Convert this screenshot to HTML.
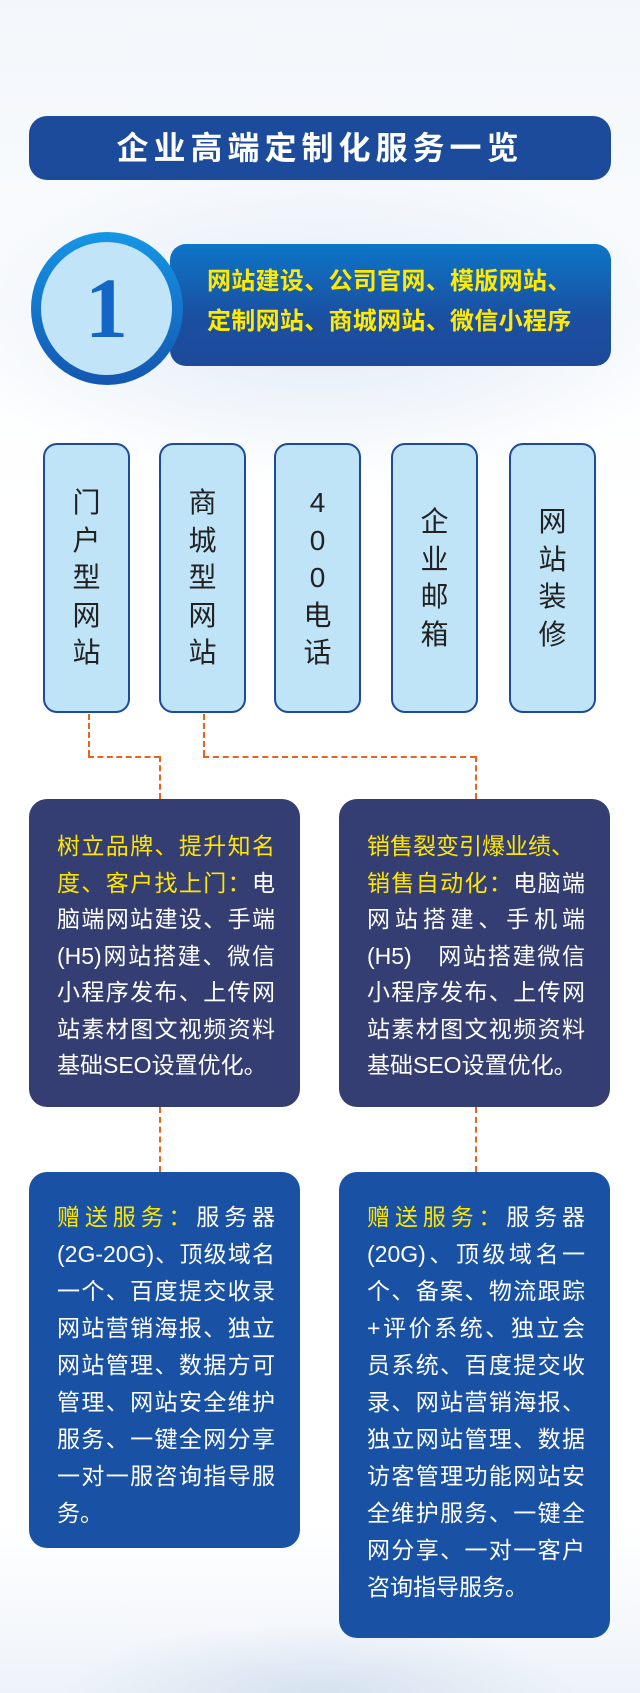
<!DOCTYPE html>
<html><head><meta charset="utf-8"><style>
*{margin:0;padding:0;box-sizing:border-box}
body{width:640px;height:1693px;position:relative;overflow:hidden;font-family:"Liberation Sans","Noto Sans CJK SC",sans-serif;
background:radial-gradient(ellipse 380px 160px at 320px 320px,#dfeaf5 0%,rgba(230,238,248,0.6) 50%,rgba(255,255,255,0) 100%),
radial-gradient(ellipse 260px 70px at 320px 1693px,#d6e2f0 0%,rgba(255,255,255,0) 100%),
linear-gradient(#f3f7fb 0,#fff 30%,#fff 90%,#eef3f9 100%);}
.abs{position:absolute}
.title{left:29px;top:116px;width:582px;height:64px;border-radius:18px;background:#1c4b9b;color:#fff;font-size:32px;font-weight:bold;text-align:center;line-height:64px;letter-spacing:5px}
.banner{left:170px;top:244px;width:441px;height:122px;border-radius:16px;background:linear-gradient(#0d76c8,#1b4fa0 60%,#1d4a9a);}
.btxt{left:207px;top:262px;color:#ffea00;font-size:24px;font-weight:bold;line-height:40px;letter-spacing:0.3px}
.circ{left:31px;top:232px;width:152px;height:153px;border-radius:50%;background:linear-gradient(#1596e6,#1456b0);}
.inner{left:41px;top:242px;width:131px;height:133px;border-radius:50%;background:#c1e4f8}
.one{left:41px;top:242px;width:131px;height:133px;text-align:center;line-height:133px;font-size:86px;font-weight:bold;color:#1466c4;font-family:"Liberation Serif",serif}
.vb{top:443px;width:87px;height:270px;border:2.5px solid #1d4a9a;border-radius:14px;background:#bfe3f7;display:flex;flex-direction:column;justify-content:center;align-items:center;font-size:28px;line-height:37.5px;color:#222}
.dh{border-top:2px dashed #e8641e;height:0}
.dv{border-left:2px dashed #e8641e;width:0}
.box{width:271px;border-radius:18px;padding:0 0 0 28px;color:#fff;font-size:23px;line-height:36.5px}
.dark{background:#353e72;top:799px;height:308px;padding-top:29px}
.blue{background:#1952a5;top:1172px;padding-top:27px;line-height:37px}
.l{width:218px;text-align:justify;text-align-last:justify;white-space:nowrap}
.l.n{text-align-last:left}
.y{color:#ffe600}
</style></head><body>
<div class="abs title">企业高端定制化服务一览</div>
<div class="abs banner"></div>
<div class="abs btxt">网站建设、公司官网、模版网站、<br>定制网站、商城网站、微信小程序</div>
<div class="abs circ"></div>
<div class="abs inner"></div>
<div class="abs one">1</div>

<div class="abs vb" style="left:43px"><span>门</span><span>户</span><span>型</span><span>网</span><span>站</span></div>
<div class="abs vb" style="left:159px"><span>商</span><span>城</span><span>型</span><span>网</span><span>站</span></div>
<div class="abs vb" style="left:274px"><span>4</span><span>0</span><span>0</span><span>电</span><span>话</span></div>
<div class="abs vb" style="left:391px"><span>企</span><span>业</span><span>邮</span><span>箱</span></div>
<div class="abs vb" style="left:509px"><span>网</span><span>站</span><span>装</span><span>修</span></div>

<div class="abs dv" style="left:88px;top:714px;height:42px"></div>
<div class="abs dh" style="left:88px;top:756px;width:72px"></div>
<div class="abs dv" style="left:159px;top:756px;height:43px"></div>
<div class="abs dv" style="left:203px;top:714px;height:42px"></div>
<div class="abs dh" style="left:203px;top:756px;width:273px"></div>
<div class="abs dv" style="left:475px;top:756px;height:43px"></div>
<div class="abs dv" style="left:159px;top:1107px;height:65px"></div>
<div class="abs dv" style="left:475px;top:1107px;height:65px"></div>

<div class="abs box dark" style="left:29px">
<div class="l y">树立品牌、提升知名</div>
<div class="l"><span class="y">度、客户找上门：</span>电</div>
<div class="l">脑端网站建设、手端</div>
<div class="l">(H5)网站搭建、微信</div>
<div class="l">小程序发布、上传网</div>
<div class="l">站素材图文视频资料</div>
<div class="l n">基础SEO设置优化。</div>
</div>
<div class="abs box dark" style="left:339px">
<div class="l n y">销售裂变引爆业绩、</div>
<div class="l"><span class="y">销售自动化：</span>电脑端</div>
<div class="l">网站搭建、手机端</div>
<div class="l">(H5)　网站搭建微信</div>
<div class="l">小程序发布、上传网</div>
<div class="l">站素材图文视频资料</div>
<div class="l n">基础SEO设置优化。</div>
</div>

<div class="abs box blue" style="left:29px;height:376px">
<div class="l"><span class="y">赠送服务：</span>服务器</div>
<div class="l">(2G-20G)、顶级域名</div>
<div class="l">一个、百度提交收录</div>
<div class="l">网站营销海报、独立</div>
<div class="l">网站管理、数据方可</div>
<div class="l">管理、网站安全维护</div>
<div class="l">服务、一键全网分享</div>
<div class="l">一对一服咨询指导服</div>
<div class="l n">务。</div>
</div>
<div class="abs box blue" style="left:339px;height:466px">
<div class="l"><span class="y">赠送服务：</span>服务器</div>
<div class="l">(20G)、顶级域名一</div>
<div class="l">个、备案、物流跟踪</div>
<div class="l">+评价系统、独立会</div>
<div class="l">员系统、百度提交收</div>
<div class="l">录、网站营销海报、</div>
<div class="l">独立网站管理、数据</div>
<div class="l">访客管理功能网站安</div>
<div class="l">全维护服务、一键全</div>
<div class="l">网分享、一对一客户</div>
<div class="l n">咨询指导服务。</div>
</div>
</body></html>
